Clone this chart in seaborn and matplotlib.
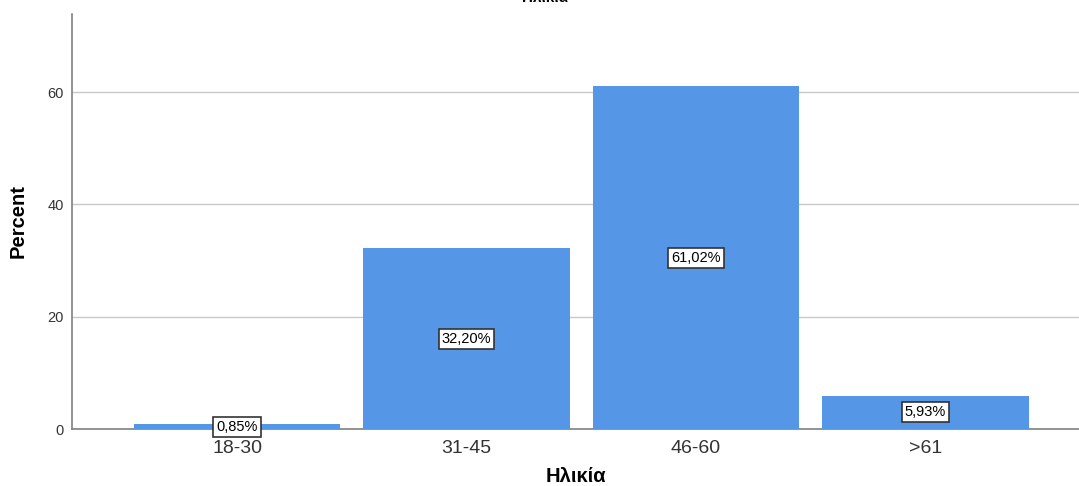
import matplotlib
matplotlib.use("Agg")
import matplotlib.pyplot as plt
import seaborn as sns
import pandas as pd

categories = ["18-30", "31-45", "46-60", ">61"]
percent = [0.85, 32.20, 61.02, 5.93]
labels = ["0,85%", "32,20%", "61,02%", "5,93%"]
yticks = [0, 20, 40, 60]

sns.set_theme(style="white")
plt.rcParams['font.family'] = ['Liberation Sans', 'DejaVu Sans']

df = pd.DataFrame({"cat": categories, "pct": percent})

fig = plt.figure(figsize=(10.79, 4.86), dpi=100)
ax = fig.add_axes([72/1079, 1 - 429/486, (1079-72)/1079, (429-14)/486])

sns.barplot(data=df, x="cat", y="pct", color="#5596e6", saturation=1,
            width=0.9, ax=ax, zorder=3, edgecolor="#5596e6", linewidth=0)

ax.set_xlim(-0.719, 3.669)
ax.set_ylim(0, 73.9)
ax.set_yticks(yticks)
ax.yaxis.grid(True, color="#c8c8c8", linewidth=1, zorder=0)
ax.set_axisbelow(True)

for s in ["top", "right"]:
    ax.spines[s].set_visible(False)
for s in ["left", "bottom"]:
    ax.spines[s].set_color("#808080")
    ax.spines[s].set_linewidth(1.2)

ax.tick_params(axis="x", labelsize=14, colors="#333333", length=0, pad=8)
ax.tick_params(axis="y", labelsize=10.5, colors="#333333", length=0, pad=6)

ax.set_xlabel("Ηλικία", fontsize=14.5, fontweight="bold", color="black", labelpad=7)
ax.set_ylabel("Percent", fontsize=14.5, fontweight="bold", color="black", labelpad=14)

for i, (v, lab) in enumerate(zip(percent, labels)):
    ax.text(i, v / 2, lab, ha="center", va="center", fontsize=10.5, color="black",
            zorder=5,
            bbox=dict(boxstyle="square,pad=0.2", facecolor="white",
                      edgecolor="#333333", linewidth=1.2))

fig.text(545/1079, 1 - 1.5/486, "Ηλικία", ha="center", va="baseline",
         fontsize=11, fontweight="bold", color="black")

fig.savefig("out.png", dpi=100)
